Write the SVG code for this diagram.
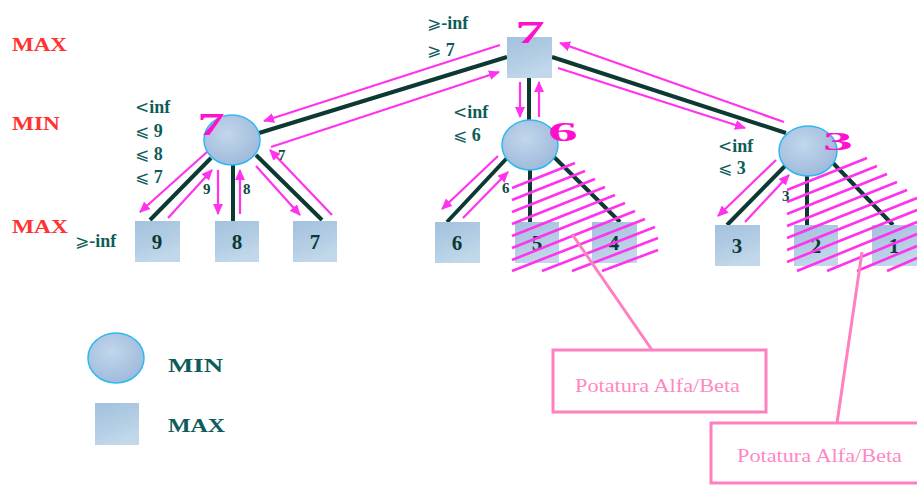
<svg xmlns="http://www.w3.org/2000/svg" width="917" height="485" viewBox="0 0 917 485">
  <defs>
    <radialGradient id="ballFill" cx="42%" cy="38%" r="70%">
      <stop offset="0" stop-color="#c3d7ec"/>
      <stop offset="1" stop-color="#9bb7d9"/>
    </radialGradient>
    <linearGradient id="boxFill" x1="0" y1="0" x2="0.4" y2="1">
      <stop offset="0" stop-color="#a3c1de"/>
      <stop offset="0.6" stop-color="#b3cde4"/>
      <stop offset="1" stop-color="#c2d8ea"/>
    </linearGradient>
    <marker id="head" markerUnits="userSpaceOnUse" markerWidth="11" markerHeight="10" refX="10" refY="5" orient="auto">
      <path d="M0,0 L11,5 L0,10 z" fill="#ff33ee"/>
    </marker>
    <style>
      .level { font-family: "Liberation Serif", serif; font-weight: bold; font-size: 19px; fill: #ff3333; }
      .bound { font-family: "Liberation Serif", "DejaVu Serif", serif; font-weight: bold; font-size: 18px; fill: #0e5c5a; }
      .sym { font-family: "DejaVu Sans", sans-serif; font-weight: normal; font-size: 17px; }
      .val { font-family: "Liberation Serif", serif; font-weight: bold; font-size: 15px; fill: #0e4a44; }
      .leaf { font-family: "Liberation Serif", serif; font-weight: bold; font-size: 21px; fill: #0b3a36; text-anchor: middle; }
      .big { font-family: "Liberation Serif", serif; font-weight: bold; fill: #ff10cc; text-anchor: middle; }
      .box { fill: url(#boxFill); }
      .ball { fill: url(#ballFill); stroke: #2eb8f0; stroke-width: 1.5; }
      .edge { stroke: #0c3a32; stroke-width: 4; fill: none; }
      .flow { stroke: #ff33ee; stroke-width: 2.2; fill: none; marker-end: url(#head); }
      .hatch { stroke: #ff33ee; stroke-width: 2.6; }
      .note { fill: #ffffff; stroke: #ff80c0; stroke-width: 3; }
      .notetext { font-family: "Liberation Serif", serif; font-size: 18px; fill: #ff88c4; }
      .lead { stroke: #ff80c0; stroke-width: 3; }
      .legend { font-family: "Liberation Serif", serif; font-weight: bold; font-size: 19px; fill: #0e5c5a; }
    </style>
  </defs>

  <rect width="917" height="485" fill="#ffffff"/>

  <!-- level names -->
  <g id="levels">
    <text class="level" x="12" y="51" textLength="55" lengthAdjust="spacingAndGlyphs">MAX</text>
    <text class="level" x="12" y="130" textLength="48" lengthAdjust="spacingAndGlyphs">MIN</text>
    <text class="level" x="12" y="233" textLength="56" lengthAdjust="spacingAndGlyphs">MAX</text>
  </g>

  <!-- tree edges -->
  <g id="edges">
    <line class="edge" x1="507" y1="57" x2="259" y2="133"/>
    <line class="edge" x1="529" y1="78" x2="529" y2="121"/>
    <line class="edge" x1="552" y1="57" x2="786" y2="133"/>
    <line class="edge" x1="211" y1="158" x2="150" y2="220"/>
    <line class="edge" x1="233" y1="164" x2="233" y2="221"/>
    <line class="edge" x1="256" y1="155" x2="322" y2="220"/>
    <line class="edge" x1="507" y1="158" x2="447" y2="222"/>
    <line class="edge" x1="530" y1="168" x2="530" y2="222"/>
    <line class="edge" x1="553" y1="156" x2="620" y2="222"/>
    <line class="edge" x1="786" y1="165" x2="727" y2="225"/>
    <line class="edge" x1="807" y1="175" x2="807" y2="225"/>
    <line class="edge" x1="832" y1="162" x2="893" y2="225"/>
  </g>

  <!-- MAX root -->
  <g id="root">
    <rect class="box" x="507" y="37" width="45" height="41"/>
  </g>

  <!-- MIN nodes -->
  <g id="min-left">
    <ellipse class="ball" cx="232" cy="140" rx="28" ry="25"/>
  </g>
  <g id="min-mid">
    <ellipse class="ball" cx="530" cy="145" rx="28" ry="25"/>
  </g>
  <g id="min-right">
    <ellipse class="ball" cx="808" cy="151" rx="29" ry="25"/>
  </g>

  <!-- MAX leaves -->
  <g id="leaf-9"><rect class="box" x="135" y="221" width="45" height="41"/><text class="leaf" x="157" y="249">9</text></g>
  <g id="leaf-8"><rect class="box" x="215" y="221" width="44" height="41"/><text class="leaf" x="237" y="249">8</text></g>
  <g id="leaf-7"><rect class="box" x="293" y="221" width="44" height="41"/><text class="leaf" x="315" y="249">7</text></g>
  <g id="leaf-6"><rect class="box" x="435" y="222" width="45" height="41"/><text class="leaf" x="457" y="250">6</text></g>
  <g id="leaf-5"><rect class="box" x="515" y="222" width="44" height="41"/><text class="leaf" x="537" y="250">5</text></g>
  <g id="leaf-4"><rect class="box" x="592" y="222" width="45" height="41"/><text class="leaf" x="614" y="250">4</text></g>
  <g id="leaf-3"><rect class="box" x="715" y="225" width="45" height="41"/><text class="leaf" x="737" y="253">3</text></g>
  <g id="leaf-2"><rect class="box" x="794" y="225" width="44" height="41"/><text class="leaf" x="816" y="253">2</text></g>
  <g id="leaf-1"><rect class="box" x="872" y="225" width="45" height="41"/><text class="leaf" x="894" y="253">1</text></g>

  <!-- pruned subtrees -->
  <g id="cut-mid">
    <line class="hatch" x1="512" y1="188" x2="575" y2="163"/>
    <line class="hatch" x1="512" y1="200" x2="585" y2="171"/>
    <line class="hatch" x1="512" y1="212" x2="595" y2="179"/>
    <line class="hatch" x1="512" y1="224" x2="605" y2="187"/>
    <line class="hatch" x1="512" y1="236" x2="615" y2="195"/>
    <line class="hatch" x1="512" y1="248" x2="625" y2="203"/>
    <line class="hatch" x1="512" y1="260" x2="635" y2="211"/>
    <line class="hatch" x1="512" y1="271" x2="645" y2="219"/>
    <line class="hatch" x1="542" y1="271" x2="655" y2="227"/>
    <line class="hatch" x1="572" y1="271" x2="658" y2="238"/>
    <line class="hatch" x1="602" y1="271" x2="658" y2="250"/>
  </g>
  <g id="cut-right">
    <line class="hatch" x1="787" y1="190" x2="867" y2="158"/>
    <line class="hatch" x1="787" y1="202" x2="877" y2="166"/>
    <line class="hatch" x1="787" y1="214" x2="887" y2="174"/>
    <line class="hatch" x1="787" y1="226" x2="897" y2="182"/>
    <line class="hatch" x1="787" y1="238" x2="907" y2="190"/>
    <line class="hatch" x1="787" y1="250" x2="917" y2="198"/>
    <line class="hatch" x1="787" y1="262" x2="917" y2="210"/>
    <line class="hatch" x1="797" y1="271" x2="917" y2="222"/>
    <line class="hatch" x1="827" y1="271" x2="917" y2="234"/>
    <line class="hatch" x1="857" y1="271" x2="917" y2="246"/>
    <line class="hatch" x1="887" y1="271" x2="917" y2="258"/>
  </g>

  <!-- backed-up values written over the nodes -->
  <g id="backed-values">
    <text class="big" font-size="31" transform="translate(530,43) scale(1.9,1)">7</text>
    <text class="big" font-size="32" transform="translate(211,135) scale(1.7,1)">7</text>
    <text class="big" font-size="28" transform="translate(563,141) scale(2.1,0.95)">6</text>
    <text class="big" font-size="26" transform="translate(838,150) scale(2.3,0.95)">3</text>
  </g>

  <!-- alpha/beta flow arrows -->
  <g id="flows">
    <line class="flow" x1="500" y1="45" x2="264" y2="121"/>
    <line class="flow" x1="271" y1="147" x2="499" y2="72"/>
    <line class="flow" x1="520" y1="82" x2="520" y2="117"/>
    <line class="flow" x1="539" y1="117" x2="539" y2="82"/>
    <line class="flow" x1="784" y1="122" x2="560" y2="43"/>
    <line class="flow" x1="558" y1="68" x2="745" y2="128"/>

    <line class="flow" x1="207" y1="152" x2="140" y2="212"/>
    <line class="flow" x1="168" y1="218" x2="212" y2="170"/>
    <line class="flow" x1="218" y1="170" x2="218" y2="214"/>
    <line class="flow" x1="240" y1="214" x2="240" y2="170"/>
    <line class="flow" x1="256" y1="166" x2="300" y2="215"/>
    <line class="flow" x1="332" y1="215" x2="270" y2="150"/>

    <line class="flow" x1="498" y1="156" x2="442" y2="209"/>
    <line class="flow" x1="463" y1="218" x2="508" y2="172"/>

    <line class="flow" x1="776" y1="160" x2="718" y2="216"/>
    <line class="flow" x1="745" y1="222" x2="789" y2="175"/>
  </g>

  <!-- values on the edges -->
  <g id="edge-values">
    <text class="val" x="203" y="194">9</text>
    <text class="val" x="243" y="194">8</text>
    <text class="val" x="278" y="160">7</text>
    <text class="val" x="502" y="193">6</text>
    <text class="val" x="782" y="201">3</text>
  </g>

  <!-- alpha/beta bounds -->
  <g id="bounds">
    <text class="bound" x="427" y="29"><tspan class="sym">⩾</tspan>-inf</text>
    <text class="bound" x="427" y="56"><tspan class="sym">⩾</tspan> 7</text>
    <text class="bound" x="135" y="113"><tspan class="sym">&lt;</tspan>inf</text>
    <text class="bound" x="135" y="137"><tspan class="sym">⩽</tspan> 9</text>
    <text class="bound" x="135" y="160"><tspan class="sym">⩽</tspan> 8</text>
    <text class="bound" x="135" y="183"><tspan class="sym">⩽</tspan> 7</text>
    <text class="bound" x="75" y="247"><tspan class="sym">⩾</tspan>-inf</text>
    <text class="bound" x="453" y="118"><tspan class="sym">&lt;</tspan>inf</text>
    <text class="bound" x="453" y="141"><tspan class="sym">⩽</tspan> 6</text>
    <text class="bound" x="718" y="152"><tspan class="sym">&lt;</tspan>inf</text>
    <text class="bound" x="718" y="174"><tspan class="sym">⩽</tspan> 3</text>
  </g>

  <!-- pruning callouts -->
  <g id="note-mid">
    <line class="lead" x1="572" y1="234" x2="652" y2="350"/>
    <rect class="note" x="553" y="350" width="213" height="62"/>
    <text class="notetext" x="575" y="392" textLength="165" lengthAdjust="spacingAndGlyphs">Potatura Alfa/Beta</text>
  </g>
  <g id="note-right">
    <line class="lead" x1="862" y1="252" x2="837" y2="423"/>
    <rect class="note" x="711" y="423" width="212" height="60"/>
    <text class="notetext" x="737" y="462" textLength="165" lengthAdjust="spacingAndGlyphs">Potatura Alfa/Beta</text>
  </g>

  <!-- legend -->
  <g id="legend">
    <ellipse class="ball" cx="116" cy="358" rx="28" ry="25"/>
    <text class="legend" x="168" y="372" textLength="55" lengthAdjust="spacingAndGlyphs">MIN</text>
    <rect class="box" x="95" y="403" width="44" height="42"/>
    <text class="legend" x="168" y="432" textLength="57" lengthAdjust="spacingAndGlyphs">MAX</text>
  </g>
</svg>
